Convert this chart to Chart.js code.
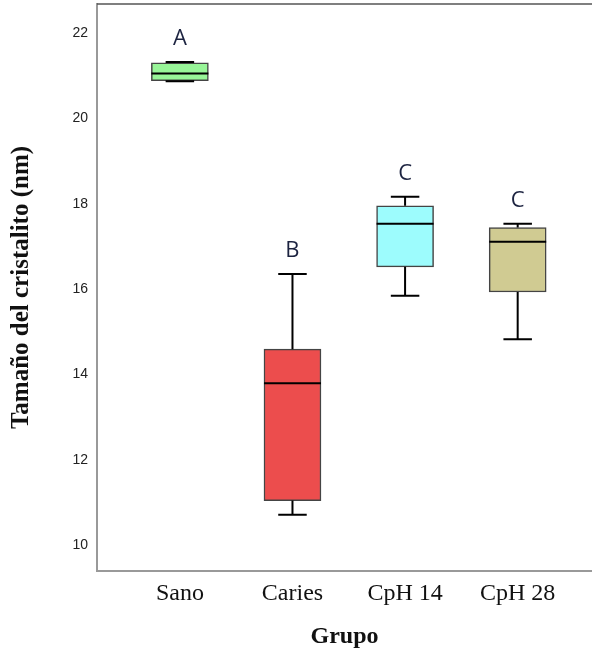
<!DOCTYPE html>
<html lang="es">
<head>
<meta charset="utf-8">
<title>Tamaño del cristalito por grupo</title>
<script src="https://cdn.jsdelivr.net/npm/chart.js@4.4.1/dist/chart.umd.min.js"></script>
<style>
  html, body { margin: 0; padding: 0; background: #fff; }
  canvas { display: block; }
</style>
</head>
<body>
<canvas id="graficoCristalito" width="592" height="651"></canvas>
<script>
// Resumen de cada grupo (nm)
const grupos = ['Sano', 'Caries', 'CpH 14', 'CpH 28'];
const minimos = [20.87, 10.71, 15.84, 14.82];
const cuartil1 = [20.88, 11.04, 16.52, 15.93];
const medianas = [21.05, 13.79, 17.53, 17.11];
const cuartil3 = [21.30, 14.59, 17.95, 17.44];
const maximos = [21.32, 16.35, 18.16, 17.53];
const letras = ['A', 'B', 'C', 'C'];
const ticksY = [10, 12, 14, 16, 18, 20, 22];

const coloresCaja = ['#98f598', '#ec4d4d', '#9dfcfd', '#d0cb92'];

// Bigotes, medianas, letras y línea superior del marco
const bigotesYMedianas = {
    id: 'bigotesYMedianas',
    afterDatasetsDraw(chart) {
        const { ctx, chartArea, scales: { y } } = chart;
        const meta = chart.getDatasetMeta(0);
        ctx.save();

        ctx.strokeStyle = '#555';
        ctx.lineWidth = 1.5;
        ctx.beginPath();
        ctx.moveTo(chartArea.left, chartArea.top);
        ctx.lineTo(chartArea.right, chartArea.top);
        ctx.stroke();

        ctx.strokeStyle = '#000';
        ctx.lineWidth = 2;
        ctx.fillStyle = '#1c2340';
        ctx.font = '22px "Open Sans"';
        ctx.textAlign = 'center';
        ctx.textBaseline = 'middle';

        grupos.forEach((g, i) => {
            const caja = meta.data[i];
            const cx = caja.x;
            const medio = caja.width / 2;
            const tope = medio / 2;
            const yMin = y.getPixelForValue(minimos[i]);
            const yQ1 = y.getPixelForValue(cuartil1[i]);
            const yMed = y.getPixelForValue(medianas[i]);
            const yQ3 = y.getPixelForValue(cuartil3[i]);
            const yMax = y.getPixelForValue(maximos[i]);

            ctx.beginPath();
            ctx.moveTo(cx, yQ1);
            ctx.lineTo(cx, yMin);
            ctx.moveTo(cx - tope, yMin);
            ctx.lineTo(cx + tope, yMin);
            ctx.moveTo(cx, yQ3);
            ctx.lineTo(cx, yMax);
            ctx.moveTo(cx - tope, yMax);
            ctx.lineTo(cx + tope, yMax);
            ctx.moveTo(cx - medio, yMed);
            ctx.lineTo(cx + medio, yMed);
            ctx.stroke();

            ctx.fillText(letras[i], cx, yMax - 23);
        });
        ctx.restore();
    }
};

const ctxCristalito = document.getElementById('graficoCristalito').getContext('2d');
new Chart(ctxCristalito, {
    type: 'bar',
    data: {
        datasets: [{
            label: 'Tamaño del cristalito',
            data: grupos.map((g, i) => ({ x: i + 1, y: [cuartil1[i], cuartil3[i]] })),
            backgroundColor: coloresCaja,
            borderColor: '#444',
            borderWidth: 1.5,
            borderSkipped: false,
            barThickness: 57
        }]
    },
    options: {
        responsive: false,
        animation: false,
        layout: { padding: { top: 4, right: 0, bottom: 0, left: 0 } },
        plugins: { legend: { display: false }, tooltip: { enabled: false } },
        scales: {
            x: {
                type: 'linear',
                offset: false,
                min: 0.264,
                max: 4.66,
                grid: { display: false, drawTicks: false },
                border: { display: true, color: '#999', width: 2 },
                afterBuildTicks: scale => { scale.ticks = grupos.map((g, i) => ({ value: i + 1 })); },
                afterFit: scale => {
                    scale.height = 80;
                    scale.paddingLeft = 0;
                    scale.paddingRight = 0;
                },
                ticks: {
                    padding: 8,
                    color: '#111',
                    font: { family: 'Liberation Serif', size: 24 },
                    callback: v => grupos[v - 1]
                },
                title: {
                    display: true,
                    text: 'Grupo',
                    color: '#111',
                    font: { family: 'Liberation Serif', size: 24, weight: 'bold' },
                    padding: { top: 2, bottom: 0 }
                }
            },
            y: {
                min: 9.39,
                max: 22.68,
                grid: { display: false, drawTicks: false },
                border: { display: true, color: '#999', width: 2 },
                afterBuildTicks: scale => { scale.ticks = ticksY.map(v => ({ value: v })); },
                afterFit: scale => {
                    scale.width = 97;
                    scale.paddingTop = 0;
                    scale.paddingBottom = 0;
                },
                ticks: {
                    padding: 9,
                    color: '#222',
                    font: { family: 'Liberation Sans', size: 14 }
                },
                title: {
                    display: true,
                    text: 'Tamaño del cristalito (nm)',
                    color: '#111',
                    font: { family: 'Liberation Serif', size: 25, weight: 'bold' },
                    padding: { top: 7, bottom: 0 }
                }
            }
        }
    },
    plugins: [bigotesYMedianas]
});
</script>
</body>
</html>
